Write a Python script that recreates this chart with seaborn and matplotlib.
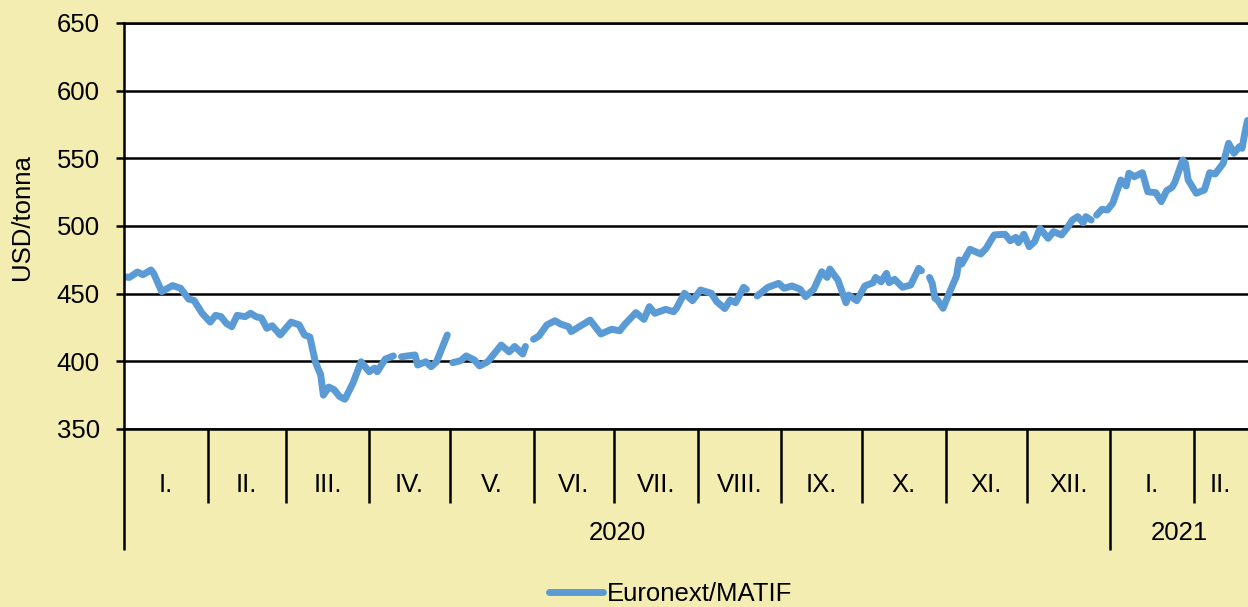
import pandas as pd
import seaborn as sns
import matplotlib.pyplot as plt
import matplotlib.transforms as mtransforms

# days since 2020-01-01, None in price = no quote (line breaks there)
day_offset = [0, 2, 5, 7, 10, 11, 14, 18, 21, 24, 26, 29,
              32, 34, 36, 38, 40, 42, 45, 47, 49, 51, 53, 55, 58,
              62, 65, 67, 69, 71, 73, 74, 76, 78, 80, 82, 85, 88,
              91, 93, 94, 97, 100, 101, 103, 108, 109, 112, 114, 116, 120,
              121, 122, 125, 127, 130, 132, 135, 140, 143, 145, 148, 149, 150,
              152, 154, 157, 160, 162, 165, 166, 168, 173, 177, 179,
              181, 184, 186, 190, 193, 195, 197, 201, 204, 205, 208, 211,
              214, 218, 220, 223, 225, 227, 230, 231, 233, 235, 239,
              243, 245, 248, 251, 253, 256, 259, 261, 262, 265, 268, 269, 272,
              275, 278, 279, 281, 283, 284, 286, 289, 292, 295, 296, 297, 299, 300, 301, 302, 304,
              306, 309, 310, 311, 314, 318, 320, 323, 327, 329, 331, 332, 334,
              336, 338, 340, 343, 345, 348, 350, 352, 354, 356, 357, 359, 360, 361, 363, 365,
              367, 370, 372, 373, 375, 378, 380, 383, 385, 387, 389, 390, 393, 394, 395,
              398, 401, 403, 405, 408, 410, 412, 414, 415, 416, 417]
price = [462.5, 462, 466, 464, 467.5, 465, 451.5, 456, 454, 446, 445, 435.5,
         429, 434, 433, 428, 425.6, 434, 433, 435.5, 433, 432, 424.4, 426.3, 419.5,
         429, 427, 419.5, 418, 399.7, 390, 375, 381, 379, 374, 372, 384, 399.7,
         392.3, 395, 392.3, 401.7, 404, None, 403.4, 404.7, 397.3, 399.7, 396, 399.7, 419.5,
         None, 399, 400.5, 404, 401, 396.6, 399.7, 412, 407, 411, 405.4, 411, None,
         416.3, 418.7, 427, 430, 427.6, 425.6, 422, 424.4, 430.5, 420.2, 422,
         423.7, 422.6, 427.6, 436, 431, 440.4, 435.5, 438.4, 436.7, 439, 450.3, 444.8,
         452.7, 450.3, 444.1, 439, 445.3, 443.3, 454.7, 453.2, None, 448.3, 454.7,
         457.6, 454, 455.7, 453.2, 447.8, 453.2, 466.2, 462, 468.2, 460, 443.3, 449, 444.8,
         455.7, 458.1, 462, 458.8, 465, 458.1, 460.6, 454.7, 456.4, 468.7, 467, None, 462, 457.6, 446.6, 445.3, 439.2,
         449, 463, 474.9, 472, 482.8, 479.3, 483.5, 493.4, 493.9, 489.1, 491.6, 487.7, 493.9,
         484.7, 488.4, 498.3, 490.9, 495.8, 493.4, 498.3, 504.4, 506.9, 502.4, 506.9, 504.4, None, 508, 512.3, 511.8,
         516.8, 534, 529.6, 539, 536.4, 539.4, 525.3, 524.6, 518, 526.1, 528.6, 532.1, 548.8, 546.3, 534,
         524.2, 526.6, 539.4, 538.4, 546.3, 561.1, 553.7, 558.6, 557.4, 568.4, 578]

month_labels = ['I.', 'II.', 'III.', 'IV.', 'V.', 'VI.', 'VII.', 'VIII.',
                'IX.', 'X.', 'XI.', 'XII.', 'I.', 'II.']
year_labels = ['2020', '2021']
series_name = 'Euronext/MATIF'

assert len(day_offset) == len(price)

start = pd.Timestamp('2020-01-01')
x_max = 417.2
blue = '#5B9BD5'
bg = '#F4EDB1'

df = pd.DataFrame({'day': day_offset, 'price': price})
df['price'] = df['price'].astype(float)
df['seg'] = df['price'].isna().cumsum()
df = df.dropna()

sns.set_style("white")
plt.rcParams['font.family'] = ['Liberation Sans', 'DejaVu Sans']
plt.rcParams.update({'text.color': 'black', 'xtick.color': 'black',
                     'ytick.color': 'black', 'axes.labelcolor': 'black'})

fig = plt.figure(figsize=(12.48, 6.07), dpi=100, facecolor=bg)
ax = fig.add_axes([124 / 1248, 1 - 429 / 607, 1 - 124 / 1248, 406 / 607])
ax.set_facecolor('white')

first = True
for seg, part in df.groupby('seg'):
    sns.lineplot(data=part, x='day', y='price', ax=ax, color=blue, lw=5,
                 label=series_name if first else None, legend=False,
                 solid_capstyle='round', solid_joinstyle='round')
    first = False

ax.set_ylim(350, 650)
ax.set_yticks(range(350, 651, 50))
ax.set_xlim(0, x_max)
ax.yaxis.grid(True, color='black', lw=1.8)
ax.xaxis.grid(False)

for s in ['left', 'bottom', 'top']:
    ax.spines[s].set_color('black')
    ax.spines[s].set_linewidth(1.8)
ax.spines['right'].set_visible(False)

# month and year separators on the x axis
month_starts = pd.date_range('2020-01-01', '2021-03-01', freq='MS')
month_off = [(d - start).days for d in month_starts]
year_off = [(pd.Timestamp(y + '-01-01') - start).days for y in year_labels]

ax.set_xticks(year_off)
ax.set_xticks([m for m in month_off if m <= x_max], minor=True)
ax.set_xticklabels([])
ax.tick_params(axis='x', which='major', length=87, width=1.8, color='black',
               direction='out', bottom=True)
ax.tick_params(axis='x', which='minor', length=53, width=1.8, color='black',
               direction='out', bottom=True)
ax.tick_params(axis='y', length=5.8, width=1.8, color='black', pad=11.5,
               labelsize=18.5, labelcolor='black', direction='out', left=True)

trans = mtransforms.blended_transform_factory(ax.transData, ax.transAxes)
for i, lab in enumerate(month_labels):
    a, b = max(month_off[i], 0), min(month_off[i + 1], x_max)
    ax.text((a + b) / 2, -0.138, lab, transform=trans, ha='center', va='center',
            fontsize=18.5, color='black')

year_ends = year_off[1:] + [x_max]
for y0, y1, lab in zip(year_off, year_ends, year_labels):
    ax.text((y0 + min(y1, x_max)) / 2, -0.256, lab, transform=trans,
            ha='center', va='center', fontsize=18.5, color='black')

ax.set_xlabel('')
ax.set_ylabel('')
ax.text(-0.091, 0.522, 'USD/tonna', transform=ax.transAxes, rotation=90,
        ha='center', va='center', fontsize=18.5, color='black')

handles, labels = ax.get_legend_handles_labels()
leg = fig.legend(handles[:1], labels[:1], loc='center', bbox_to_anchor=(0.5377, 0.022),
                 frameon=False, fontsize=18.5, handlelength=2.1, handletextpad=0.15)
for t in leg.get_texts():
    t.set_color('black')

fig.savefig('out.png', dpi=100, facecolor=bg)
